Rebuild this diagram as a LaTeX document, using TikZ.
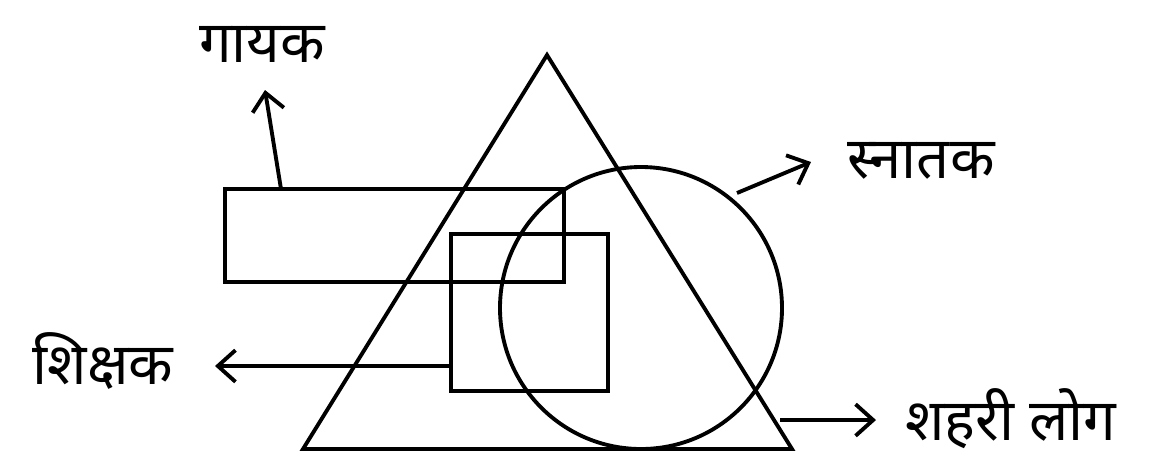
\documentclass[tikz,border=0pt]{standalone}
\usepackage{fontspec}
\newfontfamily\hindi[Script=Devanagari]{Noto Sans}
\usetikzlibrary{arrows.meta}

\begin{document}
\begin{tikzpicture}[
    x=0.02cm, y=-0.02cm,
    shape line/.style={line width=2.2pt, line join=miter},
    pointer/.style={-{Straight Barb[length=10pt, width=18pt]}, line width=2.2pt},
    label text/.style={font=\hindi\fontsize{33}{40}\selectfont, anchor=base, inner sep=0pt},
]
\useasboundingbox (0,0) rectangle (1159,458);

% Shapes
\coordinate (apex) at (547,55);
\coordinate (baseL) at (303,449);
\coordinate (baseR) at (792,449);
\draw[shape line] (apex) -- (baseL) -- (baseR) -- cycle;

\draw[shape line] (225,189) rectangle (564,282);
\draw[shape line] (451,234) rectangle (608,391);
\draw[shape line] (641,308) circle[radius=141];

% Labels
\node[label text] (singer) at (262,62) {गायक};
\node[label text] (graduate) at (921,178) {स्नातक};
\node[label text] (teacher) at (103,384) {शिक्षक};
\node[label text] (urban) at (1011,440) {शहरी लोग};

% Pointers
\coordinate (singerFrom) at (281,189);
\coordinate (singerTo) at (265,90);
\coordinate (gradFrom) at (737,193);
\coordinate (gradTo) at (811,162);
\coordinate (teachFrom) at (451,366);
\coordinate (teachTo) at (215,366);
\coordinate (urbanFrom) at (780,420);
\coordinate (urbanTo) at (876,420);

\draw[pointer] (singerFrom) -- (singerTo);
\draw[pointer] (gradFrom) -- (gradTo);
\draw[pointer] (teachFrom) -- (teachTo);
\draw[pointer] (urbanFrom) -- (urbanTo);
\end{tikzpicture}
\end{document}
